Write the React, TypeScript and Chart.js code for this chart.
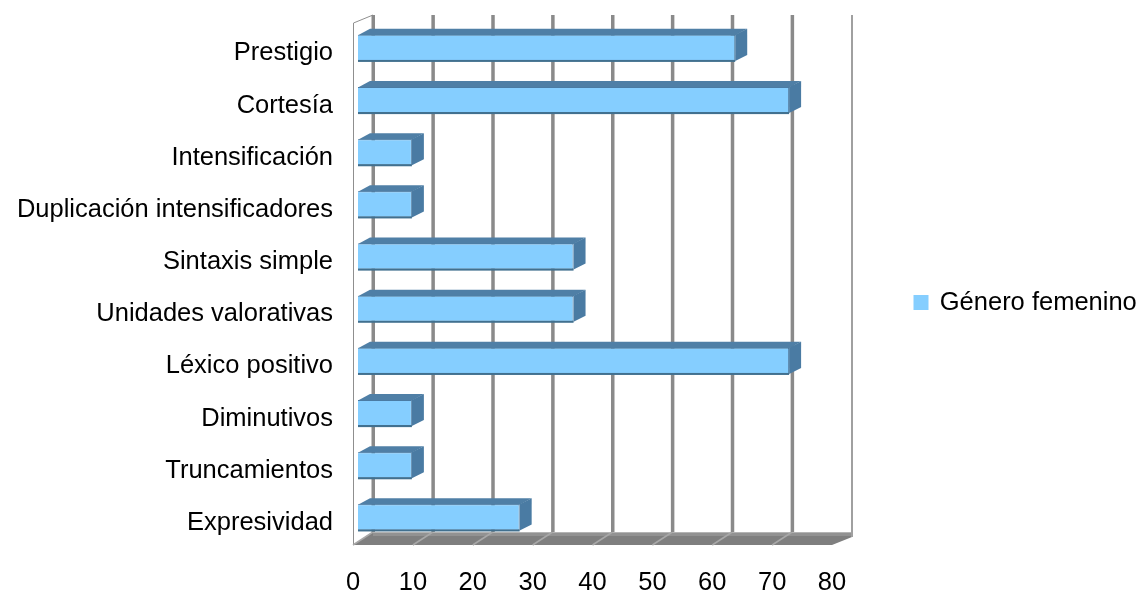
import React, { useEffect, useRef } from "react";
import { Chart, registerables } from "chart.js";

Chart.register(...registerables);

const categories = [
  "Prestigio",
  "Cortesía",
  "Intensificación",
  "Duplicación intensificadores",
  "Sintaxis simple",
  "Unidades valorativas",
  "Léxico positivo",
  "Diminutivos",
  "Truncamientos",
  "Expresividad",
];
const femenino = [63, 72, 9, 9, 36, 36, 72, 9, 9, 27];
const seriesName = "Género femenino";
const ticks = [0, 10, 20, 30, 40, 50, 60, 70, 80];

const FONT = "'Liberation Sans', Arial, sans-serif";
const FONT_SIZE = 25.5;
const OX = 5;
const OY = -5.5;

const wallPlugin = {
  id: "wall3d",
  afterLayout(chart: any) {
    if (chart.legend) {
      chart.legend.top -= 3;
      chart.legend.bottom -= 3;
    }
  },
  beforeDatasetsDraw(chart: any) {
    const { ctx, chartArea, scales } = chart;
    const x = scales.x;
    const front = chartArea.bottom - 4;
    const backBottom = front - 13;
    const top = 15;
    const dx = 20;
    ctx.save();
    // left wall
    ctx.strokeStyle = "#8f8f8f";
    ctx.lineWidth = 1;
    ctx.beginPath();
    ctx.moveTo(x.left + 0.5, front);
    ctx.lineTo(x.left + 0.5, top + 8);
    ctx.lineTo(x.left + dx, top);
    ctx.stroke();
    // floor
    ctx.fillStyle = "#7f7f7f";
    ctx.beginPath();
    ctx.moveTo(x.left, front);
    ctx.lineTo(x.left + dx, backBottom);
    ctx.lineTo(x.right + dx, backBottom);
    ctx.lineTo(x.right + dx, backBottom + 5);
    ctx.lineTo(x.right, front);
    ctx.closePath();
    ctx.fill();
    ctx.fillStyle = "#929292";
    ctx.fillRect(x.left + dx, backBottom, x.right - x.left, 4);
    ctx.fillStyle = "#b4b4b4";
    ctx.fillRect(x.left + dx, backBottom, x.right - x.left, 1);
    // floor lines
    ctx.strokeStyle = "#a8a8a8";
    ctx.lineWidth = 1.5;
    for (const t of ticks.slice(0, -1)) {
      const px = x.getPixelForValue(t);
      ctx.beginPath();
      ctx.moveTo(px, front);
      ctx.lineTo(px + dx, backBottom);
      ctx.stroke();
    }
    // back wall lines
    for (const t of ticks) {
      const px = x.getPixelForValue(t) + dx;
      const last = t === ticks[ticks.length - 1];
      ctx.fillStyle = last ? "#a0a0a0" : "#8a8a8a";
      ctx.fillRect(px - (last ? 1 : 1.5), top, last ? 2 : 3.5, backBottom - top + (last ? 5 : 0));
    }
    // 3D faces of bars
    const meta = chart.getDatasetMeta(0);
    const bx = 12;
    const by = -6;
    meta.data.forEach((bar: any) => {
      const h = bar.height;
      const yTop = bar.y - h / 2 + OY;
      const yBot = bar.y + h / 2 + OY;
      const xL = bar.base + OX;
      const xR = bar.x + OX;
      ctx.fillStyle = "#4f7fa6";
      ctx.beginPath();
      ctx.moveTo(xL, yTop + 0.5);
      ctx.lineTo(xL + bx, yTop + by);
      ctx.lineTo(xR + bx, yTop + by);
      ctx.lineTo(xR, yTop + 0.5);
      ctx.closePath();
      ctx.fill();
      ctx.fillStyle = "#4a7ba3";
      ctx.beginPath();
      ctx.moveTo(xR, yTop);
      ctx.lineTo(xR + bx, yTop + by);
      ctx.lineTo(xR + bx, yBot + by);
      ctx.lineTo(xR, yBot);
      ctx.closePath();
      ctx.fill();
    });
    ctx.restore();
    ctx.save();
    ctx.translate(OX, OY);
  },
  afterDatasetsDraw(chart: any) {
    const { ctx } = chart;
    // dark lower edge of each bar's front face (still inside the translated state)
    ctx.fillStyle = "#41708f";
    chart.getDatasetMeta(0).data.forEach((bar: any) => {
      ctx.fillRect(bar.base, bar.y + bar.height / 2 - 1, bar.x - bar.base, 2);
    });
    ctx.restore();
  },
};

export default function App() {
  const ref = useRef<HTMLCanvasElement | null>(null);
  useEffect(() => {
    document.body.style.margin = "0";
    const chart = new Chart(ref.current as HTMLCanvasElement, {
      type: "bar",
      data: {
        labels: categories,
        datasets: [
          {
            label: seriesName,
            data: femenino,
            backgroundColor: "#85CEFF",
            borderColor: "#4a7ba3",
            borderWidth: 1,
            barPercentage: 0.5,
            categoryPercentage: 1,
          },
        ],
      },
      options: {
        indexAxis: "y",
        responsive: false,
        animation: false,
        layout: { padding: { top: 19, right: 0, left: 0, bottom: 0 } },
        scales: {
          x: {
            min: 0,
            max: 80,
            border: { display: false },
            grid: { display: false },
            ticks: {
              stepSize: 10,
              maxRotation: 0,
              color: "#000",
              padding: 11,
              font: { family: FONT, size: FONT_SIZE },
            },
            afterFit: (s: any) => {
              s.height = 43;
            },
          },
          y: {
            border: { display: false },
            grid: { display: false },
            ticks: {
              color: "#000",
              padding: 12,
              font: { family: FONT, size: FONT_SIZE },
            },
            afterFit: (s: any) => {
              s.width = 353;
            },
          },
        },
        plugins: {
          tooltip: { enabled: false },
          title: { display: false },
          legend: {
            display: true,
            position: "right",
            maxWidth: 308,
            labels: {
              boxWidth: 12,
              boxHeight: 12,
              padding: 83,
              color: "#000",
              font: { family: FONT, size: FONT_SIZE },
              generateLabels: () => [
                {
                  text: seriesName,
                  fillStyle: "#85CEFF",
                  strokeStyle: "#85CEFF",
                  lineWidth: 3,
                  datasetIndex: 0,
                },
              ],
            },
          },
        },
      } as any,
      plugins: [wallPlugin],
    });
    return () => chart.destroy();
  }, []);
  return <canvas ref={ref} width={1140} height={592} style={{ display: "block" }} />;
}
